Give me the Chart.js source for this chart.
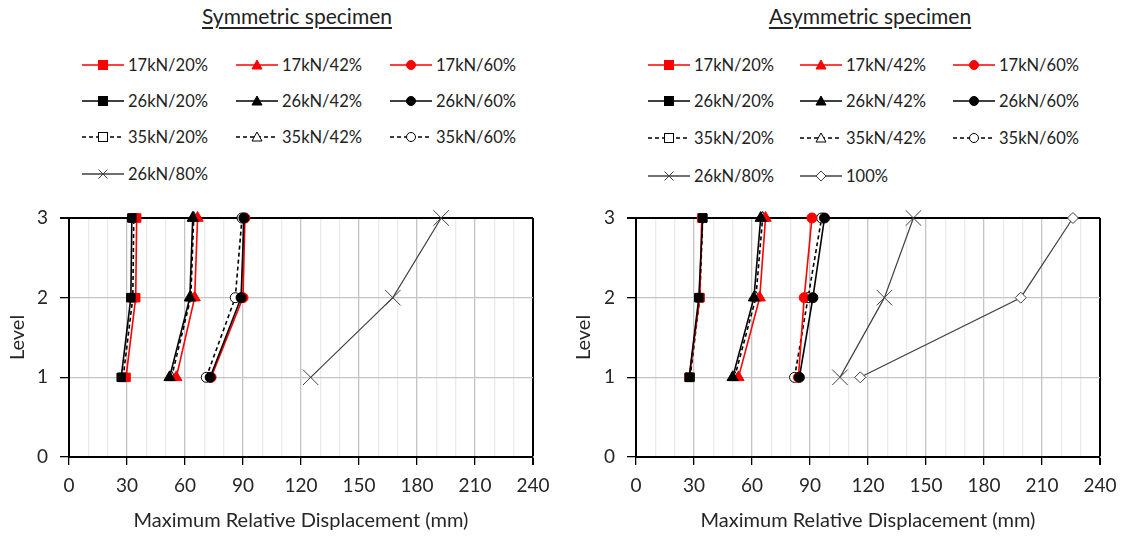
<!DOCTYPE html>
<html>
<head>
<meta charset="utf-8">
<script src="https://cdn.jsdelivr.net/npm/chart.js@4.4.1/dist/chart.umd.min.js"></script>
<style>
  body { margin: 0; background: #fff; font-family: Lato, sans-serif; color: #222; }
  #page { position: relative; width: 1127px; height: 537px; overflow: hidden; }
  .title { position: absolute; top: 3px; font-size: 21px; text-decoration: underline; text-underline-offset: 3px; transform: translateX(-50%); white-space: nowrap; }
  .item { position: absolute; display: flex; align-items: center; font-size: 16.5px; white-space: nowrap; transform: translateY(-50%); }
  .item svg { margin-right: 4px; }
  canvas { position: absolute; }
</style>
</head>
<body>
<div id="page">
  <div class="title" style="left:297px">Symmetric specimen</div>
  <div class="title" style="left:870px">Asymmetric specimen</div>
  <canvas id="symChart" width="560" height="347" style="left:0;top:190px"></canvas>
  <canvas id="asymChart" width="561" height="347" style="left:566px;top:190px"></canvas>
</div>
<script>
// level on the y axis
const levels = [1, 2, 3];
const xTicks = [0, 30, 60, 90, 120, 150, 180, 210, 240];

// symmetric specimen, displacement (mm) at level 1, 2, 3
const sym17_20 = [29.5, 34.5, 35];
const sym17_42 = [55.5, 65, 66.5];
const sym17_60 = [73.5, 90, 91];
const sym26_20 = [27, 32, 32.5];
const sym26_42 = [52, 62.5, 64];
const sym26_60 = [73, 89, 90.5];
const sym35_20 = [28, 33, 33.5];
const sym35_42 = [53, 63, 64.5];
const sym35_60 = [71, 86, 89.5];
const sym26_80 = [125, 167.5, 192.5];

// asymmetric specimen
const asym17_20 = [27.5, 33, 34];
const asym17_42 = [53, 64, 67];
const asym17_60 = [84, 87, 91];
const asym26_20 = [27.5, 32.5, 34.5];
const asym26_42 = [50, 61, 64.5];
const asym26_60 = [84.5, 91.5, 97.5];
const asym35_20 = [28, 33, 34.5];
const asym35_42 = [51, 62, 65.5];
const asym35_60 = [82, 89, 96];
const asym26_80 = [105.5, 128.5, 143.5];
const asym100 = [116, 199, 226];

const RED = '#ff0000', BLACK = '#000000', GREY = '#404040';

// series styles: colour, marker, filled, dashed, draw order (low = on top)
const styles = {
  '17kN/20%': [RED, 'rect', true, false, 2],
  '17kN/42%': [RED, 'triangle', true, false, 2],
  '17kN/60%': [RED, 'circle', true, false, 2],
  '26kN/20%': [BLACK, 'rect', true, false, 1],
  '26kN/42%': [BLACK, 'triangle', true, false, 1],
  '26kN/60%': [BLACK, 'circle', true, false, 1],
  '35kN/20%': [BLACK, 'rect', false, true, 3],
  '35kN/42%': [BLACK, 'triangle', false, true, 3],
  '35kN/60%': [BLACK, 'circle', false, true, 3],
  '26kN/80%': [GREY, 'crossRot', false, false, 4],
  '100%': [GREY, 'rectRot', false, false, 4]
};
const radius = { rect: 6, triangle: 6.5, circle: 5, crossRot: 11, rectRot: 5.5 };

function makeDataset(label, values) {
  const [color, marker, filled, dashed, order] = styles[label];
  return {
    label: label,
    data: values.map((v, k) => ({ x: v, y: levels[k] })),
    borderColor: color,
    backgroundColor: filled ? color : '#ffffff',
    borderWidth: color === GREY ? 1.2 : 1.6,
    borderDash: dashed ? [4, 3] : [],
    pointStyle: marker,
    pointRadius: radius[marker],
    pointBorderColor: color,
    pointBackgroundColor: filled ? color : '#ffffff',
    pointBorderWidth: 1,
    tension: 0,
    clip: false,
    order: order
  };
}

function makeChart(id, series, axisWidth) {
  const datasets = Object.keys(series).map(name => makeDataset(name, series[name]));
  const font = { family: 'Lato, sans-serif', size: 19 };
  return new Chart(document.getElementById(id), {
    type: 'line',
    data: { datasets: datasets },
    options: {
      responsive: false,
      animation: false,
      events: [],
      layout: { padding: { top: 28, right: 27, left: 0, bottom: 0 } },
      plugins: { legend: { display: false }, tooltip: { enabled: false } },
      scales: {
        x: {
          type: 'linear', min: 0, max: 240,
          afterFit: s => { s.height = 80; },
          ticks: {
            stepSize: 10, autoSkip: false, maxRotation: 0, padding: 9,
            color: '#262626', font: font,
            callback: v => xTicks.includes(v) ? v : ''
          },
          grid: {
            color: c => c.tick.value === 240 ? '#000' : (c.tick.value % 30 === 0 ? '#c4c4c4' : '#ebebeb'),
            lineWidth: c => c.tick.value === 240 ? 2 : 1.3,
            tickColor: c => c.tick.value % 30 === 0 ? '#000' : 'rgba(0,0,0,0)',
            tickLength: 8
          },
          border: { color: '#000', width: 2 },
          title: {
            display: true, text: 'Maximum Relative Displacement (mm)',
            color: '#262626', font: { family: 'Lato, sans-serif', size: 20 },
            padding: { top: 0, bottom: 4 }
          }
        },
        y: {
          type: 'linear', min: 0, max: 3,
          afterFit: s => { s.width = axisWidth; },
          ticks: { stepSize: 1, padding: 12, color: '#262626', font: font },
          grid: {
            color: c => c.tick.value === 3 ? '#000' : '#c4c4c4',
            lineWidth: c => c.tick.value === 3 ? 2 : 1.3,
            tickColor: '#000',
            tickLength: 9
          },
          border: { color: '#000', width: 2 },
          title: {
            display: true, text: 'Level',
            color: '#262626', font: { family: 'Lato, sans-serif', size: 20 },
            padding: { top: 6, bottom: 0 }
          }
        }
      }
    }
  });
}

// legend markers drawn as small svg pictures next to real text
function markerSvg(label) {
  const [color, marker, filled, dashed] = styles[label];
  const fill = filled ? color : '#ffffff';
  const dash = dashed ? ' stroke-dasharray="4 3"' : '';
  let m = '';
  if (marker === 'rect') m = `<rect x="16.5" y="2.5" width="9" height="9" fill="${fill}" stroke="${color}"/>`;
  if (marker === 'triangle') m = `<polygon points="21,2 26,11 16,11" fill="${fill}" stroke="${color}"/>`;
  if (marker === 'circle') m = `<circle cx="21" cy="7" r="4.5" fill="${fill}" stroke="${color}"/>`;
  if (marker === 'crossRot') m = `<path d="M16.5 2.5 L25.5 11.5 M25.5 2.5 L16.5 11.5" stroke="${color}"/>`;
  if (marker === 'rectRot') m = `<polygon points="21,2 26,7 21,12 16,7" fill="${fill}" stroke="${color}"/>`;
  return `<svg width="42" height="14"><line x1="0" y1="7" x2="42" y2="7" stroke="${color}" stroke-width="1.6"${dash}/>${m}</svg>`;
}

function addLegend(names, colsX, rowsY) {
  const page = document.getElementById('page');
  names.forEach((name, i) => {
    const div = document.createElement('div');
    div.className = 'item';
    div.style.left = colsX[i % 3] + 'px';
    div.style.top = rowsY[Math.floor(i / 3)] + 'px';
    div.innerHTML = markerSvg(name) + '<span>' + name + '</span>';
    page.appendChild(div);
  });
}

const symSeries = {
  '17kN/20%': sym17_20, '17kN/42%': sym17_42, '17kN/60%': sym17_60,
  '26kN/20%': sym26_20, '26kN/42%': sym26_42, '26kN/60%': sym26_60,
  '35kN/20%': sym35_20, '35kN/42%': sym35_42, '35kN/60%': sym35_60,
  '26kN/80%': sym26_80
};
const asymSeries = {
  '17kN/20%': asym17_20, '17kN/42%': asym17_42, '17kN/60%': asym17_60,
  '26kN/20%': asym26_20, '26kN/42%': asym26_42, '26kN/60%': asym26_60,
  '35kN/20%': asym35_20, '35kN/42%': asym35_42, '35kN/60%': asym35_60,
  '26kN/80%': asym26_80, '100%': asym100
};

makeChart('symChart', symSeries, 69);
makeChart('asymChart', asymSeries, 70);
addLegend(Object.keys(symSeries), [82, 236, 390], [65, 101, 137, 174]);
addLegend(Object.keys(asymSeries), [648, 800, 953], [65, 101, 138, 176]);
</script>
</body>
</html>
